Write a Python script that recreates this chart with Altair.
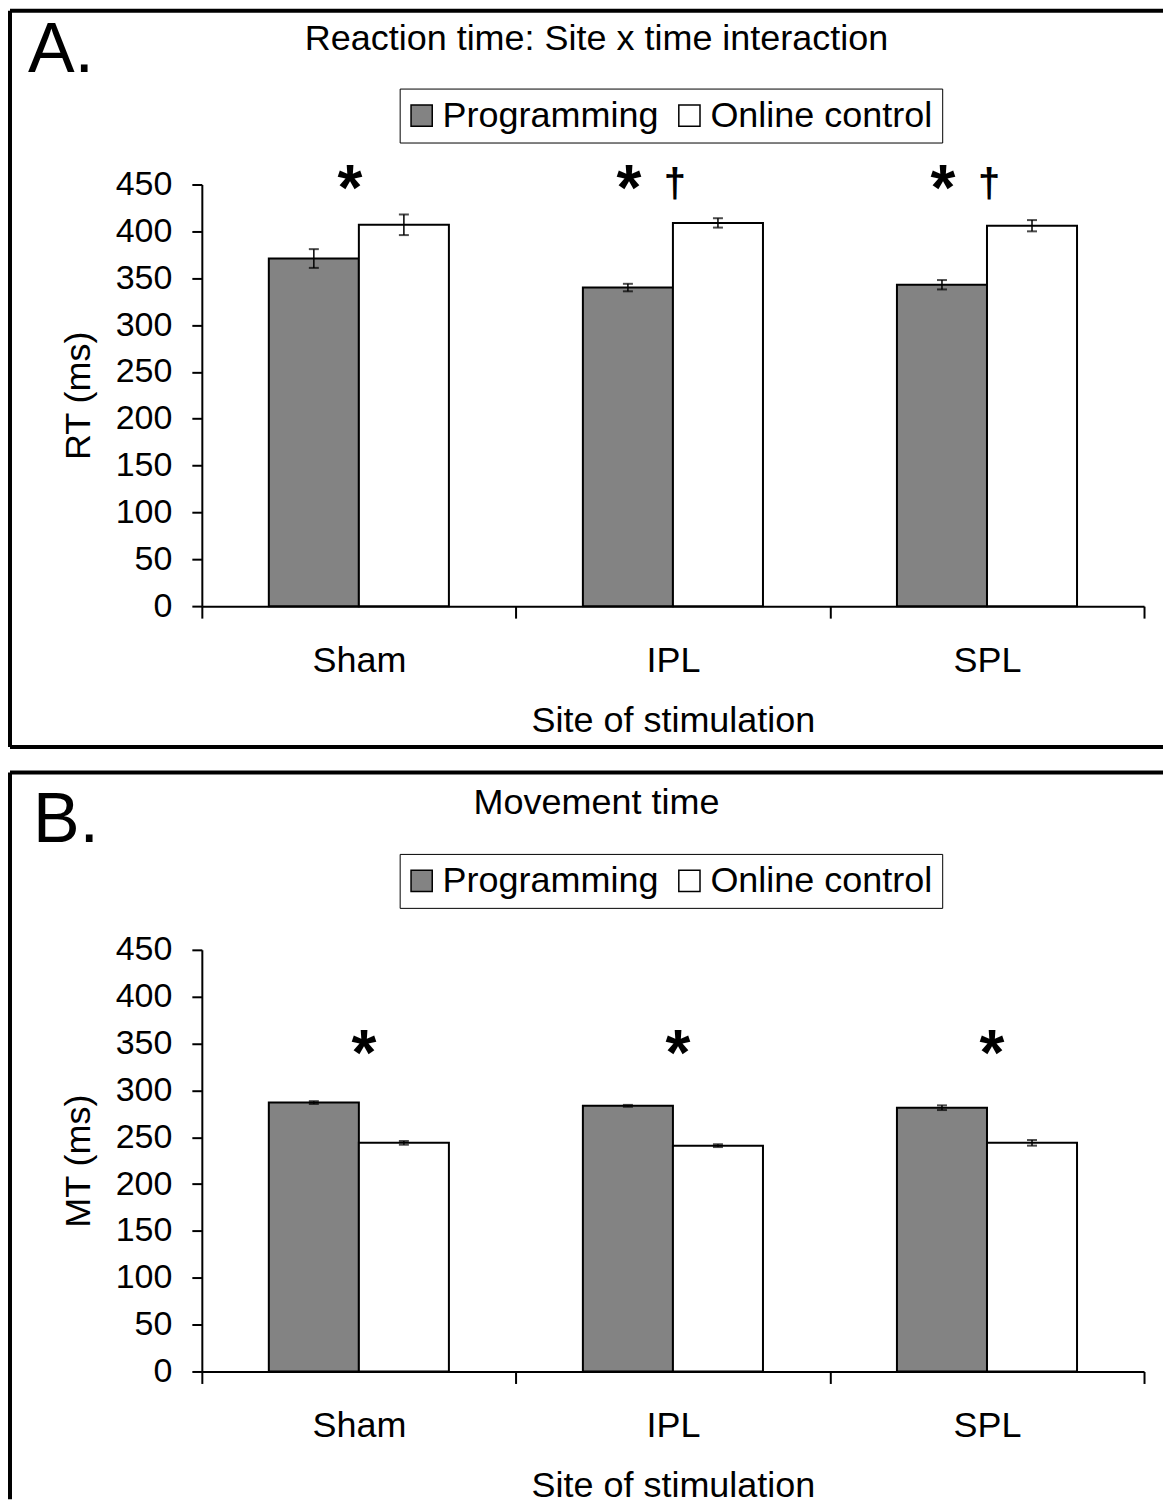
import altair as alt
import pandas as pd

FONT = "Liberation Sans"

sites = ["Sham", "IPL", "SPL"]
series = ["Programming", "Online control"]
series_colors = ["#838383", "#ffffff"]
y_ticks = [0, 50, 100, 150, 200, 250, 300, 350, 400, 450]

# Panel A: reaction time (ms)
rt_programming = [371, 340, 343]
rt_programming_err = [10, 4, 5]
rt_online = [407, 409, 406]
rt_online_err = [11, 5, 6]
rt_daggers = ["", "†", "†"]

# Panel B: movement time (ms)
mt_programming = [287, 283.5, 281.5]
mt_programming_err = [1.5, 1, 2.5]
mt_online = [244, 241, 244]
mt_online_err = [2, 1.5, 3]
mt_daggers = ["", "", ""]

W, H = 943, 422


def yscale():
    return alt.Scale(domain=[0, 450], nice=False, zero=True)


def xenc():
    return alt.X(
        "site:N", sort=sites,
        scale=alt.Scale(paddingInner=0, paddingOuter=0),
        axis=alt.Axis(
            title="Site of stimulation", labelAngle=0, tickBand="extent",
            grid=False, domainColor="black", domainWidth=2,
            tickColor="black", tickWidth=2, tickSize=12,
            labelFontSize=36, labelFont=FONT, labelColor="black",
            labelBaseline="alphabetic", labelPadding=53,
            titleFontSize=36, titleFont=FONT, titleFontWeight="normal",
            titleColor="black", titleX=471.5, titleY=125,
            titleBaseline="alphabetic", titleAlign="center",
        ),
    )


def yenc(field, title):
    return alt.Y(
        field, scale=yscale(), title=title,
        axis=alt.Axis(
            title=title, values=y_ticks, grid=False,
            domainColor="black", domainWidth=2,
            tickColor="black", tickWidth=2, tickSize=10,
            labelPadding=20, labelFontSize=34, labelFont=FONT, labelColor="black",
            titleFontSize=36, titleFont=FONT, titleFontWeight="normal",
            titleColor="black", titleX=-112, titleY=211, titleAngle=270,
            titleBaseline="alphabetic", titleAlign="center",
        ),
    )


def panel(prog, prog_err, onl, onl_err, daggers, letter, title, ytitle,
          star_y, dagger_y, dx_plain, dx_pair, frame_top, frame_bottom,
          letter_x, letter_y, title_y, draw_bottom):
    rows = []
    for i, s in enumerate(sites):
        rows.append(dict(site=s, series=series[0], value=prog[i], err=prog_err[i]))
        rows.append(dict(site=s, series=series[1], value=onl[i], err=onl_err[i]))
    df = pd.DataFrame(rows)
    xoff = alt.XOffset("series:N", sort=series,
                       scale=alt.Scale(paddingInner=0, paddingOuter=0.744))

    bars = alt.Chart(df).mark_bar(stroke="black", strokeWidth=2).encode(
        x=xenc(), xOffset=xoff,
        y=yenc("value:Q", ytitle),
        color=alt.Color(
            "series:N", sort=series,
            scale=alt.Scale(domain=series, range=series_colors),
            legend=alt.Legend(
                title=None, orient="none", legendX=198, legendY=-96,
                direction="horizontal", strokeColor="black", fillColor="white",
                padding=9, symbolType="square", symbolSize=450,
                symbolStrokeColor="black", symbolStrokeWidth=1.5,
                symbolOpacity=1, symbolOffset=-5,
                labelFontSize=36, labelFont=FONT,
                labelColor="black", labelOffset=3, columnPadding=16,
                labelLimit=500,
            ),
        ),
    )
    errs = alt.Chart(df).transform_calculate(
        lo="datum.value - datum.err", hi="datum.value + datum.err")
    rule = errs.mark_rule(color="black", strokeWidth=1.5).encode(
        x=xenc(), xOffset=xoff, y=yenc("lo:Q", ytitle), y2="hi:Q")
    cap_lo = errs.mark_tick(color="black", size=10, thickness=2).encode(
        x=xenc(), xOffset=xoff, y=yenc("lo:Q", ytitle))
    cap_hi = errs.mark_tick(color="black", size=10, thickness=2).encode(
        x=xenc(), xOffset=xoff, y=yenc("hi:Q", ytitle))

    sdf = pd.DataFrame({"site": sites, "dagger": daggers})
    stars_plain = alt.Chart(sdf).transform_filter("datum.dagger == ''").transform_calculate(
        sy=str(star_y)).mark_text(
        text="*", fontSize=64, fontWeight="bold", font=FONT, color="black",
        baseline="alphabetic", align="center", dx=dx_plain).encode(
        x=xenc(), y=yenc("sy:Q", ytitle))
    stars_pair = alt.Chart(sdf).transform_filter("datum.dagger != ''").transform_calculate(
        sy=str(star_y)).mark_text(
        text="*", fontSize=64, fontWeight="bold", font=FONT, color="black",
        baseline="alphabetic", align="center", dx=dx_pair).encode(
        x=xenc(), y=yenc("sy:Q", ytitle))
    dags = alt.Chart(sdf).transform_filter("datum.dagger != ''").transform_calculate(
        sy=str(dagger_y)).mark_text(
        fontSize=40, fontWeight="bold", font=FONT, color="black",
        baseline="alphabetic", align="center", dx=2).encode(
        x=xenc(), y=yenc("sy:Q", ytitle), text="dagger:N")

    one = alt.Data(values=[{"k": 1}])
    frame_layers = [
        alt.Chart(one).mark_rule(color="black", strokeWidth=4).encode(
            x=alt.value(-192), x2=alt.value(962), y=alt.value(frame_top)),
        alt.Chart(one).mark_rule(color="black", strokeWidth=4).encode(
            x=alt.value(-192), y=alt.value(frame_top), y2=alt.value(frame_bottom)),
    ]
    if draw_bottom:
        frame_layers.append(
            alt.Chart(one).mark_rule(color="black", strokeWidth=4).encode(
                x=alt.value(-192), x2=alt.value(962), y=alt.value(frame_bottom)))
    letter_txt = alt.Chart(one).mark_text(
        text=letter, fontSize=70, font=FONT, color="black",
        align="left", baseline="alphabetic").encode(
        x=alt.value(letter_x), y=alt.value(letter_y))
    title_txt = alt.Chart(one).mark_text(
        text=title, fontSize=36, font=FONT, color="black",
        align="center", baseline="alphabetic").encode(
        x=alt.value(395), y=alt.value(title_y))

    return alt.layer(*frame_layers, letter_txt, title_txt, bars, rule, cap_lo, cap_hi,
                     stars_plain, stars_pair, dags).properties(width=W, height=H)


panel_a = panel(rt_programming, rt_programming_err, rt_online, rt_online_err, rt_daggers,
                "A.", "Reaction time: Site x time interaction", "RT (ms)",
                star_y=423, dagger_y=437, dx_plain=-9, dx_pair=-44,
                frame_top=-174, frame_bottom=563, letter_x=-174, letter_y=-113,
                title_y=-135, draw_bottom=True)
panel_b = panel(mt_programming, mt_programming_err, mt_online, mt_online_err, mt_daggers,
                "B.", "Movement time", "MT (ms)",
                star_y=316, dagger_y=316, dx_plain=5, dx_pair=5,
                frame_top=-177.5, frame_bottom=550, letter_x=-169, letter_y=-108,
                title_y=-136, draw_bottom=False)

chart = alt.vconcat(panel_a, panel_b, spacing=344, bounds="flush").resolve_scale(
    color="independent", y="independent", x="independent", xOffset="independent"
).resolve_legend(color="independent").properties(padding=0).configure_view(strokeWidth=0)

chart.save("out.html", embed_options={"renderer": "svg", "actions": False})
